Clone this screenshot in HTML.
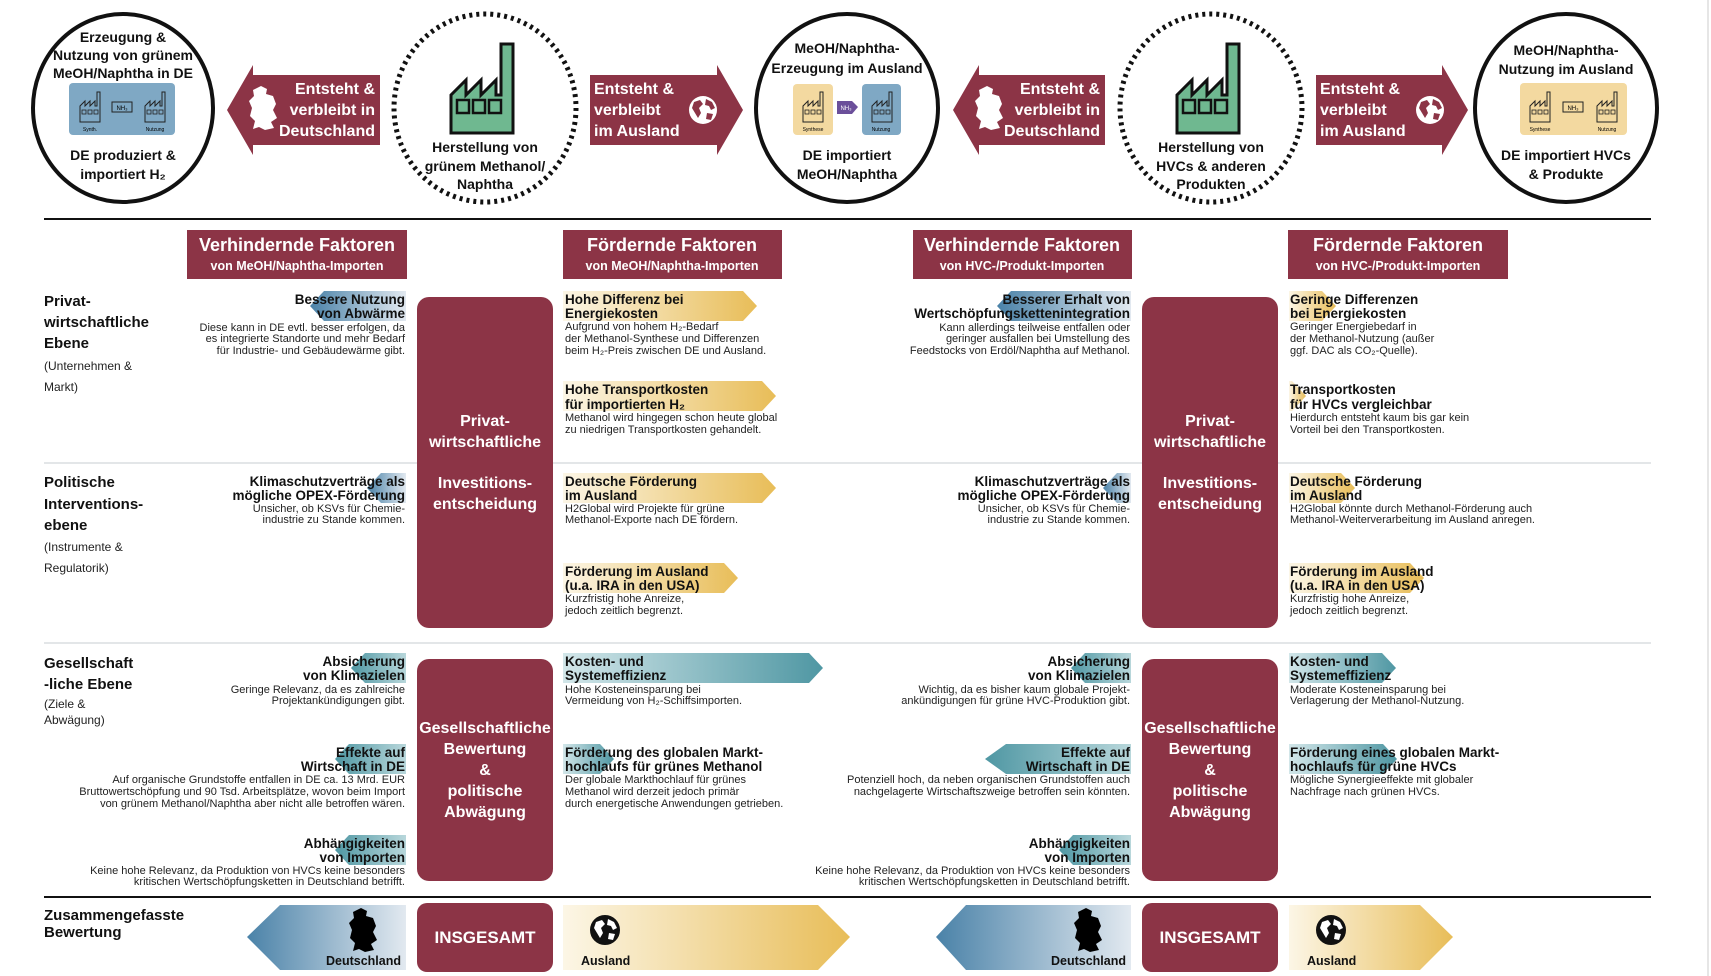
<!DOCTYPE html>
<html><head><meta charset="utf-8">
<style>
html,body{margin:0;padding:0;background:#fff;}
svg{display:block;}
text{font-family:"Liberation Sans Narrow","Liberation Sans",sans-serif;}
.b{font-weight:bold;}
.t{font-size:13.5px;font-weight:bold;fill:#111;}
.d{font-size:11px;fill:#222;}
.lab{font-size:15px;font-weight:bold;fill:#111;}
.sub{font-size:12px;fill:#222;}
.ct{font-size:14px;font-weight:bold;fill:#111;}
.wt{font-size:16px;font-weight:bold;fill:#fff;}
.pt{font-size:16px;font-weight:bold;fill:#fff;}
</style></head><body>
<svg width="1711" height="976" viewBox="0 0 1711 976" xmlns="http://www.w3.org/2000/svg">
<defs>
<linearGradient id="bl" x1="0" x2="1" y1="0" y2="0"><stop offset="0" stop-color="#4a82a8"/><stop offset="1" stop-color="#e2e9f0"/></linearGradient>
<linearGradient id="gd" x1="0" x2="1" y1="0" y2="0"><stop offset="0" stop-color="#fcf6e6"/><stop offset="1" stop-color="#e8bd58"/></linearGradient>
<linearGradient id="tlL" x1="0" x2="1" y1="0" y2="0"><stop offset="0" stop-color="#4f97a3"/><stop offset="1" stop-color="#b8d7db"/></linearGradient>
<linearGradient id="tlR" x1="0" x2="1" y1="0" y2="0"><stop offset="0" stop-color="#d2e6e9"/><stop offset="1" stop-color="#4f97a3"/></linearGradient>
<g id="fac">
<path d="M0 89 V51 L15 36 V51 L30 36 V51 L45 36 V51 H50 V0 H62 V89 Z" fill="#6fb890" stroke="#111" stroke-width="3" stroke-linejoin="miter"/>
<rect x="6" y="56" width="12" height="13" fill="none" stroke="#111" stroke-width="2.5"/>
<rect x="22" y="56" width="12" height="13" fill="none" stroke="#111" stroke-width="2.5"/>
<rect x="38" y="56" width="12" height="13" fill="none" stroke="#111" stroke-width="2.5"/>
</g>
<g id="sf">
<path d="M0 30 V14 L5 9 V14 L10 9 V14 L15 9 V14 H17 V0 H20 V30 Z" fill="none" stroke="#222" stroke-width="1"/>
<rect x="2" y="18" width="4" height="4" fill="none" stroke="#222" stroke-width="0.8"/>
<rect x="8" y="18" width="4" height="4" fill="none" stroke="#222" stroke-width="0.8"/>
<rect x="14" y="18" width="4" height="4" fill="none" stroke="#222" stroke-width="0.8"/>
</g>
<path id="de" d="M12 0 L18 3 L17 8 L24 10 L27 18 L24 24 L28 32 L22 36 L25 42 L16 44 L10 41 L4 43 L6 35 L1 30 L3 22 L0 15 L5 10 L4 4 Z"/>
<g id="globe">
<circle r="14" fill="#fff" stroke="none"/>
<path d="M-9 -8 L-3 -10 L0 -6 L-4 -2 L-2 3 L-5 8 L-8 3 L-11 -2 Z M3 -11 L9 -8 L12 -2 L8 0 L6 -4 L2 -5 Z M4 3 L10 4 L8 10 L3 9 Z" fill="#8c3446"/>
</g>
<g id="globeK">
<circle r="14" fill="#111"/>
<path d="M-9 -8 L-3 -10 L0 -6 L-4 -2 L-2 3 L-5 8 L-8 3 L-11 -2 Z M3 -11 L9 -8 L12 -2 L8 0 L6 -4 L2 -5 Z M4 3 L10 4 L8 10 L3 9 Z" fill="#fff"/>
<circle r="14" fill="none" stroke="#111" stroke-width="2"/>
</g>
</defs>

<!-- TOP circles -->
<ellipse cx="123" cy="108" rx="90" ry="94" fill="none" stroke="#111" stroke-width="4"/>
<ellipse cx="485" cy="108" rx="91" ry="94" fill="none" stroke="#111" stroke-width="5" stroke-dasharray="3 4"/>
<ellipse cx="847" cy="108" rx="91" ry="94" fill="none" stroke="#111" stroke-width="4"/>
<ellipse cx="1211" cy="108" rx="91" ry="94" fill="none" stroke="#111" stroke-width="5" stroke-dasharray="3 4"/>
<ellipse cx="1566" cy="108" rx="91" ry="94" fill="none" stroke="#111" stroke-width="4"/>

<g class="ct" text-anchor="middle">
<text x="123" y="42">Erzeugung &amp;</text>
<text x="123" y="60">Nutzung von grünem</text>
<text x="123" y="78">MeOH/Naphtha in DE</text>
<text x="123" y="160">DE produziert &amp;</text>
<text x="123" y="179">importiert H₂</text>
<text x="485" y="152">Herstellung von</text>
<text x="485" y="171">grünem Methanol/</text>
<text x="485" y="189">Naphtha</text>
<text x="847" y="53">MeOH/Naphtha-</text>
<text x="847" y="73">Erzeugung im Ausland</text>
<text x="847" y="160">DE importiert</text>
<text x="847" y="179">MeOH/Naphtha</text>
<text x="1211" y="152">Herstellung von</text>
<text x="1211" y="171">HVCs &amp; anderen</text>
<text x="1211" y="189">Produkten</text>
<text x="1566" y="55">MeOH/Naphtha-</text>
<text x="1566" y="74">Nutzung im Ausland</text>
<text x="1566" y="160">DE importiert HVCs</text>
<text x="1566" y="179">&amp; Produkte</text>
</g>

<!-- small icon boxes -->
<rect x="69" y="83" width="106" height="52" rx="4" fill="#7fa8c4"/>
<use href="#sf" x="80" y="92"/><use href="#sf" x="145" y="92"/>
<rect x="112" y="102" width="20" height="10" fill="none" stroke="#222"/><text x="122" y="110" font-size="6" text-anchor="middle">NH₃</text>
<text x="90" y="131" font-size="5" text-anchor="middle">Synth.</text><text x="155" y="131" font-size="5" text-anchor="middle">Nutzung</text>

<rect x="793" y="84" width="40" height="51" rx="4" fill="#f3d9a0"/><use href="#sf" x="803" y="92"/>
<text x="813" y="131" font-size="5" text-anchor="middle">Synthese</text>
<polygon points="837,101 852,101 858,107 852,114 837,114" fill="#6b4f9a"/>
<text x="846" y="110" font-size="6" fill="#fff" text-anchor="middle">NH₃</text>
<rect x="862" y="84" width="39" height="51" rx="4" fill="#7fa8c4"/><use href="#sf" x="872" y="92"/>
<text x="881" y="131" font-size="5" text-anchor="middle">Nutzung</text>

<rect x="1520" y="83" width="107" height="52" rx="4" fill="#f3d9a0"/>
<use href="#sf" x="1530" y="92"/><use href="#sf" x="1597" y="92"/>
<rect x="1563" y="102" width="20" height="10" fill="none" stroke="#222"/><text x="1573" y="110" font-size="6" text-anchor="middle">NH₃</text>
<text x="1540" y="131" font-size="5" text-anchor="middle">Synthese</text><text x="1607" y="131" font-size="5" text-anchor="middle">Nutzung</text>

<use href="#fac" x="451" y="44"/>
<use href="#fac" x="1177" y="44"/>

<!-- top arrows -->
<polygon points="227,110 253,65 253,75 380,75 380,145 253,145 253,155" fill="#8c3446"/>
<use href="#de" x="249" y="86" fill="#fff"/>
<g class="wt" text-anchor="end"><text x="375" y="94">Entsteht &amp;</text><text x="375" y="115">verbleibt in</text><text x="375" y="136">Deutschland</text></g>
<polygon points="590,75 717,75 717,65 743,110 717,155 717,145 590,145" fill="#8c3446"/>
<g class="wt"><text x="594" y="94">Entsteht &amp;</text><text x="594" y="115">verbleibt</text><text x="594" y="136">im Ausland</text></g>
<use href="#globe" x="703" y="110"/>

<polygon points="953,110 979,65 979,75 1105,75 1105,145 979,145 979,155" fill="#8c3446"/>
<use href="#de" x="975" y="86" fill="#fff"/>
<g class="wt" text-anchor="end"><text x="1100" y="94">Entsteht &amp;</text><text x="1100" y="115">verbleibt in</text><text x="1100" y="136">Deutschland</text></g>
<polygon points="1316,75 1442,75 1442,65 1468,110 1442,155 1442,145 1316,145" fill="#8c3446"/>
<g class="wt"><text x="1320" y="94">Entsteht &amp;</text><text x="1320" y="115">verbleibt</text><text x="1320" y="136">im Ausland</text></g>
<use href="#globe" x="1430" y="110"/>

<line x1="44" y1="219" x2="1651" y2="219" stroke="#111" stroke-width="2"/>
<line x1="1708" y1="0" x2="1708" y2="976" stroke="#ddd" stroke-width="1.5"/>

<!-- headers -->
<g>
<rect x="187" y="230" width="220" height="49" fill="#8c3446"/>
<rect x="563" y="230" width="219" height="49" fill="#8c3446"/>
<rect x="913" y="230" width="219" height="49" fill="#8c3446"/>
<rect x="1288" y="230" width="220" height="49" fill="#8c3446"/>
<g fill="#fff" font-weight="bold" text-anchor="middle">
<text x="297" y="251" font-size="18">Verhindernde Faktoren</text><text x="297" y="270" font-size="12.5">von MeOH/Naphtha-Importen</text>
<text x="672" y="251" font-size="18">Fördernde Faktoren</text><text x="672" y="270" font-size="12.5">von MeOH/Naphtha-Importen</text>
<text x="1022" y="251" font-size="18">Verhindernde Faktoren</text><text x="1022" y="270" font-size="12.5">von HVC-/Produkt-Importen</text>
<text x="1398" y="251" font-size="18">Fördernde Faktoren</text><text x="1398" y="270" font-size="12.5">von HVC-/Produkt-Importen</text>
</g>
</g>

<!-- separators -->
<g stroke="#e3e6e8" stroke-width="2">
<line x1="44" y1="463" x2="1651" y2="463"/>
<line x1="44" y1="643" x2="1651" y2="643"/>
</g>
<line x1="44" y1="897" x2="1651" y2="897" stroke="#111" stroke-width="2"/>

<!-- pillars -->
<rect x="417" y="297" width="136" height="331" rx="12" fill="#8c3446"/>
<rect x="1142" y="297" width="136" height="331" rx="12" fill="#8c3446"/>
<rect x="417" y="659" width="136" height="222" rx="12" fill="#8c3446"/>
<rect x="1142" y="659" width="136" height="222" rx="12" fill="#8c3446"/>
<g class="pt" text-anchor="middle">
<text x="485" y="426">Privat-</text><text x="485" y="447">wirtschaftliche</text><text x="485" y="488">Investitions-</text><text x="485" y="509">entscheidung</text>
<text x="1210" y="426">Privat-</text><text x="1210" y="447">wirtschaftliche</text><text x="1210" y="488">Investitions-</text><text x="1210" y="509">entscheidung</text>
<text x="485" y="733">Gesellschaftliche</text><text x="485" y="754">Bewertung</text><text x="485" y="775">&amp;</text><text x="485" y="796">politische</text><text x="485" y="817">Abwägung</text>
<text x="1210" y="733">Gesellschaftliche</text><text x="1210" y="754">Bewertung</text><text x="1210" y="775">&amp;</text><text x="1210" y="796">politische</text><text x="1210" y="817">Abwägung</text>
</g>

<!-- left labels -->
<g>
<text class="lab" x="44" y="306">Privat-</text><text class="lab" x="44" y="327">wirtschaftliche</text><text class="lab" x="44" y="348">Ebene</text>
<text class="sub" x="44" y="370">(Unternehmen &amp;</text><text class="sub" x="44" y="391">Markt)</text>
<text class="lab" x="44" y="487">Politische</text><text class="lab" x="44" y="509">Interventions-</text><text class="lab" x="44" y="530">ebene</text>
<text class="sub" x="44" y="551">(Instrumente &amp;</text><text class="sub" x="44" y="572">Regulatorik)</text>
<text class="lab" x="44" y="668">Gesellschaft</text><text class="lab" x="44" y="689">-liche Ebene</text>
<text class="sub" x="44" y="708">(Ziele &amp;</text><text class="sub" x="44" y="724">Abwägung)</text>
<text class="lab" x="44" y="920">Zusammengefasste</text><text class="lab" x="44" y="937">Bewertung</text>
</g>

<!-- title arrow backgrounds -->
<!-- left-pointing (hindering) -->
<polygon points="310,306 324,291 406,291 406,321 324,321" fill="url(#bl)"/>
<polygon points="367,488 381,473 406,473 406,503 381,503" fill="url(#bl)"/>
<polygon points="997,306 1011,291 1131,291 1131,321 1011,321" fill="url(#bl)"/>
<polygon points="1103,488 1117,473 1131,473 1131,503 1117,503" fill="url(#bl)"/>
<polygon points="351,668 365,653 406,653 406,683 365,683" fill="url(#tlL)"/>
<polygon points="335,759 349,744 406,744 406,774 349,774" fill="url(#tlL)"/>
<polygon points="335,850 349,835 406,835 406,865 349,865" fill="url(#tlL)"/>
<polygon points="1071,668 1085,653 1131,653 1131,683 1085,683" fill="url(#tlL)"/>
<polygon points="985,759 1006,744 1131,744 1131,774 1006,774" fill="url(#tlL)"/>
<polygon points="1059,850 1073,835 1131,835 1131,865 1073,865" fill="url(#tlL)"/>
<!-- right-pointing (promoting) -->
<polygon points="563,291 743,291 757,306 743,321 563,321" fill="url(#gd)"/>
<polygon points="563,381 762,381 776,396 762,411 563,411" fill="url(#gd)"/>
<polygon points="563,473 762,473 776,488 762,503 563,503" fill="url(#gd)"/>
<polygon points="563,563 724,563 738,578 724,593 563,593" fill="url(#gd)"/>
<polygon points="1289,291 1322,291 1336,306 1322,321 1289,321" fill="url(#gd)"/>
<polygon points="1289,381 1292,381 1306,396 1292,411 1289,411" fill="url(#gd)"/>
<polygon points="1289,473 1341,473 1355,488 1341,503 1289,503" fill="url(#gd)"/>
<polygon points="1289,563 1410,563 1424,578 1410,593 1289,593" fill="url(#gd)"/>
<polygon points="563,653 809,653 823,668 809,683 563,683" fill="url(#tlR)"/>
<polygon points="563,744 600,744 614,759 600,774 563,774" fill="url(#tlR)"/>
<polygon points="1289,653 1382,653 1396,668 1382,683 1289,683" fill="url(#tlR)"/>
<polygon points="1289,744 1383,744 1397,759 1383,774 1289,774" fill="url(#tlR)"/>

<!-- hindering texts (right aligned) -->
<g text-anchor="end">
<text class="t" x="405" y="304">Bessere Nutzung</text><text class="t" x="405" y="318">von Abwärme</text>
<text class="d" x="405" y="331">Diese kann in DE evtl. besser erfolgen, da</text>
<text class="d" x="405" y="342">es integrierte Standorte und mehr Bedarf</text>
<text class="d" x="405" y="354">für Industrie- und Gebäudewärme gibt.</text>
<text class="t" x="405" y="486">Klimaschutzverträge als</text><text class="t" x="405" y="500">mögliche OPEX-Förderung</text>
<text class="d" x="405" y="512">Unsicher, ob KSVs für Chemie-</text>
<text class="d" x="405" y="523">industrie zu Stande kommen.</text>
<text class="t" x="405" y="666">Absicherung</text><text class="t" x="405" y="680">von Klimazielen</text>
<text class="d" x="405" y="693">Geringe Relevanz, da es zahlreiche</text>
<text class="d" x="405" y="704">Projektankündigungen gibt.</text>
<text class="t" x="405" y="757">Effekte auf</text><text class="t" x="405" y="771">Wirtschaft in DE</text>
<text class="d" x="405" y="783">Auf organische Grundstoffe entfallen in DE ca. 13 Mrd. EUR</text>
<text class="d" x="405" y="795">Bruttowertschöpfung und 90 Tsd. Arbeitsplätze, wovon beim Import</text>
<text class="d" x="405" y="807">von grünem Methanol/Naphtha aber nicht alle betroffen wären.</text>
<text class="t" x="405" y="848">Abhängigkeiten</text><text class="t" x="405" y="862">von Importen</text>
<text class="d" x="405" y="874">Keine hohe Relevanz, da Produktion von HVCs keine besonders</text>
<text class="d" x="405" y="885">kritischen Wertschöpfungsketten in Deutschland betrifft.</text>

<text class="t" x="1130" y="304">Besserer Erhalt von</text><text class="t" x="1130" y="318">Wertschöpfungskettenintegration</text>
<text class="d" x="1130" y="331">Kann allerdings teilweise entfallen oder</text>
<text class="d" x="1130" y="342">geringer ausfallen bei Umstellung des</text>
<text class="d" x="1130" y="354">Feedstocks von Erdöl/Naphtha auf Methanol.</text>
<text class="t" x="1130" y="486">Klimaschutzverträge als</text><text class="t" x="1130" y="500">mögliche OPEX-Förderung</text>
<text class="d" x="1130" y="512">Unsicher, ob KSVs für Chemie-</text>
<text class="d" x="1130" y="523">industrie zu Stande kommen.</text>
<text class="t" x="1130" y="666">Absicherung</text><text class="t" x="1130" y="680">von Klimazielen</text>
<text class="d" x="1130" y="693">Wichtig, da es bisher kaum globale Projekt-</text>
<text class="d" x="1130" y="704">ankündigungen für grüne HVC-Produktion gibt.</text>
<text class="t" x="1130" y="757">Effekte auf</text><text class="t" x="1130" y="771">Wirtschaft in DE</text>
<text class="d" x="1130" y="783">Potenziell hoch, da neben organischen Grundstoffen auch</text>
<text class="d" x="1130" y="795">nachgelagerte Wirtschaftszweige betroffen sein könnten.</text>
<text class="t" x="1130" y="848">Abhängigkeiten</text><text class="t" x="1130" y="862">von Importen</text>
<text class="d" x="1130" y="874">Keine hohe Relevanz, da Produktion von HVCs keine besonders</text>
<text class="d" x="1130" y="885">kritischen Wertschöpfungsketten in Deutschland betrifft.</text>
</g>

<!-- promoting texts -->
<g>
<text class="t" x="565" y="304">Hohe Differenz bei</text><text class="t" x="565" y="318">Energiekosten</text>
<text class="d" x="565" y="330">Aufgrund von hohem H₂-Bedarf</text>
<text class="d" x="565" y="342">der Methanol-Synthese und Differenzen</text>
<text class="d" x="565" y="354">beim H₂-Preis zwischen DE und Ausland.</text>
<text class="t" x="565" y="394">Hohe Transportkosten</text><text class="t" x="565" y="409">für importierten H₂</text>
<text class="d" x="565" y="421">Methanol wird hingegen schon heute global</text>
<text class="d" x="565" y="433">zu niedrigen Transportkosten gehandelt.</text>
<text class="t" x="565" y="486">Deutsche Förderung</text><text class="t" x="565" y="500">im Ausland</text>
<text class="d" x="565" y="512">H2Global wird Projekte für grüne</text>
<text class="d" x="565" y="523">Methanol-Exporte nach DE fördern.</text>
<text class="t" x="565" y="576">Förderung im Ausland</text><text class="t" x="565" y="590">(u.a. IRA in den USA)</text>
<text class="d" x="565" y="602">Kurzfristig hohe Anreize,</text>
<text class="d" x="565" y="614">jedoch zeitlich begrenzt.</text>
<text class="t" x="565" y="666">Kosten- und</text><text class="t" x="565" y="680">Systemeffizienz</text>
<text class="d" x="565" y="693">Hohe Kosteneinsparung bei</text>
<text class="d" x="565" y="704">Vermeidung von H₂-Schiffsimporten.</text>
<text class="t" x="565" y="757">Förderung des globalen Markt-</text><text class="t" x="565" y="771">hochlaufs für grünes Methanol</text>
<text class="d" x="565" y="783">Der globale Markthochlauf für grünes</text>
<text class="d" x="565" y="795">Methanol wird derzeit jedoch primär</text>
<text class="d" x="565" y="807">durch energetische Anwendungen getrieben.</text>

<text class="t" x="1290" y="304">Geringe Differenzen</text><text class="t" x="1290" y="318">bei Energiekosten</text>
<text class="d" x="1290" y="330">Geringer Energiebedarf in</text>
<text class="d" x="1290" y="342">der Methanol-Nutzung (außer</text>
<text class="d" x="1290" y="354">ggf. DAC als CO₂-Quelle).</text>
<text class="t" x="1290" y="394">Transportkosten</text><text class="t" x="1290" y="409">für HVCs vergleichbar</text>
<text class="d" x="1290" y="421">Hierdurch entsteht kaum bis gar kein</text>
<text class="d" x="1290" y="433">Vorteil bei den Transportkosten.</text>
<text class="t" x="1290" y="486">Deutsche Förderung</text><text class="t" x="1290" y="500">im Ausland</text>
<text class="d" x="1290" y="512">H2Global könnte durch Methanol-Förderung auch</text>
<text class="d" x="1290" y="523">Methanol-Weiterverarbeitung im Ausland anregen.</text>
<text class="t" x="1290" y="576">Förderung im Ausland</text><text class="t" x="1290" y="590">(u.a. IRA in den USA)</text>
<text class="d" x="1290" y="602">Kurzfristig hohe Anreize,</text>
<text class="d" x="1290" y="614">jedoch zeitlich begrenzt.</text>
<text class="t" x="1290" y="666">Kosten- und</text><text class="t" x="1290" y="680">Systemeffizienz</text>
<text class="d" x="1290" y="693">Moderate Kosteneinsparung bei</text>
<text class="d" x="1290" y="704">Verlagerung der Methanol-Nutzung.</text>
<text class="t" x="1290" y="757">Förderung eines globalen Markt-</text><text class="t" x="1290" y="771">hochlaufs für grüne HVCs</text>
<text class="d" x="1290" y="783">Mögliche Synergieeffekte mit globaler</text>
<text class="d" x="1290" y="795">Nachfrage nach grünen HVCs.</text>
</g>

<!-- bottom summary -->
<polygon points="247,937 280,905 406,905 406,970 280,970" fill="url(#bl)"/>
<polygon points="563,905 818,905 850,937 818,970 563,970" fill="url(#gd)"/>
<rect x="417" y="903" width="136" height="69" rx="10" fill="#8c3446"/>
<text x="485" y="943" text-anchor="middle" font-size="17" font-weight="bold" fill="#fff">INSGESAMT</text>
<use href="#de" x="349" y="908" fill="#000"/>
<text x="401" y="965" text-anchor="end" font-size="12.5" font-weight="bold" fill="#111">Deutschland</text>
<use href="#globeK" x="605" y="930"/>
<text x="581" y="965" font-size="12.5" font-weight="bold" fill="#111">Ausland</text>

<polygon points="936,937 966,905 1131,905 1131,970 966,970" fill="url(#bl)"/>
<polygon points="1289,905 1420,905 1453,937 1420,970 1289,970" fill="url(#gd)"/>
<rect x="1142" y="903" width="136" height="69" rx="10" fill="#8c3446"/>
<text x="1210" y="943" text-anchor="middle" font-size="17" font-weight="bold" fill="#fff">INSGESAMT</text>
<use href="#de" x="1074" y="908" fill="#000"/>
<text x="1126" y="965" text-anchor="end" font-size="12.5" font-weight="bold" fill="#111">Deutschland</text>
<use href="#globeK" x="1331" y="930"/>
<text x="1307" y="965" font-size="12.5" font-weight="bold" fill="#111">Ausland</text>
</svg>
</body></html>
